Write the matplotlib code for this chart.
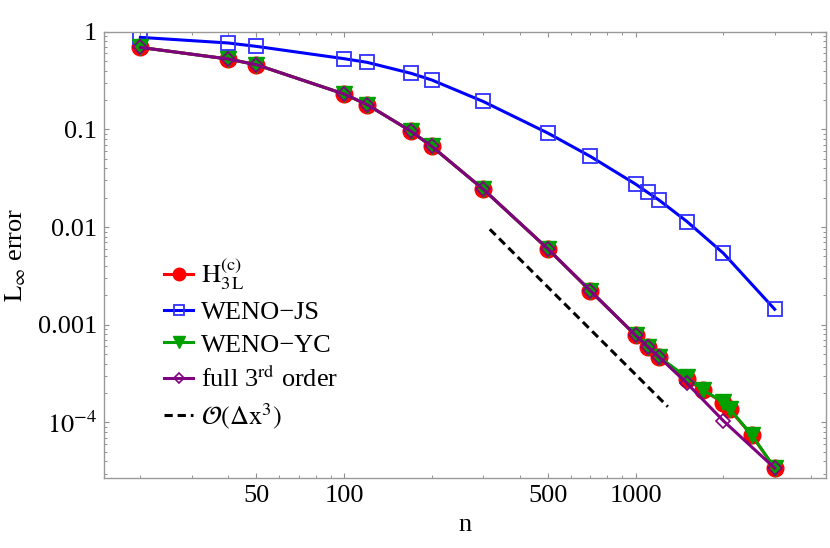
import numpy as np
import matplotlib
matplotlib.use("Agg")
import matplotlib.pyplot as plt
from matplotlib.ticker import FixedLocator, FixedFormatter, NullFormatter

plt.rcParams['font.family'] = 'serif'
plt.rcParams['font.serif'] = ['Liberation Serif', 'DejaVu Serif']
plt.rcParams['mathtext.fontset'] = 'stix'

# grid sizes n
n_h3l = [20, 40, 50, 100, 120, 170, 200, 300, 500, 700, 1000, 1100, 1200, 1500, 1700, 2000, 2100, 2500, 3000]
err_h3l = [0.690, 0.525, 0.459, 0.230, 0.179, 0.0952, 0.0668, 0.0244, 0.00598, 0.00222, 0.00078, 0.000597,
           0.000471, 0.000276, 0.000215, 0.000159, 0.000136, 7.43e-5, 3.41e-5]

n_js = [20, 40, 50, 100, 120, 170, 200, 300, 500, 700, 1000, 1100, 1200, 1500, 2000, 3000]
err_js = [0.875, 0.766, 0.707, 0.529, 0.485, 0.374, 0.320, 0.193, 0.0916, 0.0528, 0.0275, 0.0226,
          0.0190, 0.0114, 0.0054, 0.00144]

n_yc = n_h3l
err_yc = [0.690, 0.525, 0.459, 0.230, 0.179, 0.0952, 0.0668, 0.0244, 0.00598, 0.00222, 0.00078, 0.000597,
          0.000471, 0.000290, 0.000215, 0.000162, 0.000138, 7.5e-5, 3.41e-5]

n_full = [20, 40, 50, 100, 120, 170, 200, 300, 500, 700, 1000, 1100, 1200, 1500, 2000, 3000]
err_full = [0.690, 0.525, 0.459, 0.230, 0.179, 0.0952, 0.0668, 0.0244, 0.00598, 0.00222, 0.00078, 0.000597,
            0.000471, 0.000252, 0.000104, 3.41e-5]

# reference slope line O(dx^3)
n_ref = [316, 1290]
err_ref = [0.0095, 1.45e-4]

x_major = [50, 100, 500, 1000]
x_major_labels = ['50', '100', '500', '1000']
x_minor = [20, 30, 40, 60, 70, 80, 90, 200, 300, 400, 600, 700, 800, 900, 2000, 3000, 4000]
y_major = [1e-4, 1e-3, 1e-2, 1e-1, 1]
y_major_labels = [r'$10^{-4}$', '0.001', '0.01', '0.1', '1']

fig = plt.figure(figsize=(8.3, 5.48), dpi=100)
ax = fig.add_axes([0.1253, 0.1277, 0.8699, 0.8145])
ax.set_xscale('log')
ax.set_yscale('log')

ax.plot(n_h3l, err_h3l, color='red', lw=2.2, marker='o', ms=12, mec='red', mfc='red',
        label=r'$\mathrm{H}_{3\,\mathrm{L}}^{(\mathrm{c})}$')
ax.plot(n_js, err_js, color='blue', lw=2.2, marker='s', ms=10, mfc='none', mec='#3030ff', mew=1.3,
        label='WENO\u2212JS')
ax.plot(n_yc, err_yc, color='#00a000', lw=2.2, marker='v', ms=11, mec='#00a000', mfc='#00a000',
        label='WENO\u2212YC')
ax.plot(n_full, err_full, color='#800080', lw=2.2, marker='D', ms=7, mfc='none', mec='#800080', mew=1.2,
        label=r'full 3$^{\mathrm{rd}}$ order')
ax.plot(n_ref, err_ref, color='black', lw=2.2, ls=(0, (2.7, 1.6)),
        label=r'$\mathcal{O}(\Delta \mathrm{x}^3)$')

ax.set_xlim(15, 4500)
ax.set_ylim(2.7e-5, 1)

ax.xaxis.set_major_locator(FixedLocator(x_major))
ax.xaxis.set_major_formatter(FixedFormatter(x_major_labels))
ax.xaxis.set_minor_locator(FixedLocator(x_minor))
ax.xaxis.set_minor_formatter(NullFormatter())

y_minor = [m * 10.0 ** k for k in range(-5, 0) for m in range(2, 10)]
ax.yaxis.set_major_locator(FixedLocator(y_major))
ax.yaxis.set_major_formatter(FixedFormatter(y_major_labels))
ax.yaxis.set_minor_locator(FixedLocator(y_minor))
ax.yaxis.set_minor_formatter(NullFormatter())

ax.tick_params(which='both', direction='in', top=True, right=True, color='#909090', labelsize=19)
ax.tick_params(which='major', length=3.8, width=0.8, pad=5)
ax.tick_params(which='minor', length=2.2, width=0.7)
for sp in ax.spines.values():
    sp.set_color('#999999')
    sp.set_linewidth(1.0)

ax.set_xlabel('n', fontsize=19, va='center')
ax.xaxis.set_label_coords(0.5, -0.105)
ax.set_ylabel(r'$\mathrm{L}_\infty$ error', fontsize=19, va='center')
ax.yaxis.set_label_coords(-0.122, 0.5)

ax.legend(loc='upper left', bbox_to_anchor=(0.065, 0.525), frameon=False, fontsize=19,
          handlelength=1.1, handletextpad=0.3, labelspacing=0.33, borderpad=0, markerscale=0.75)

fig.savefig('out.png', dpi=100)
